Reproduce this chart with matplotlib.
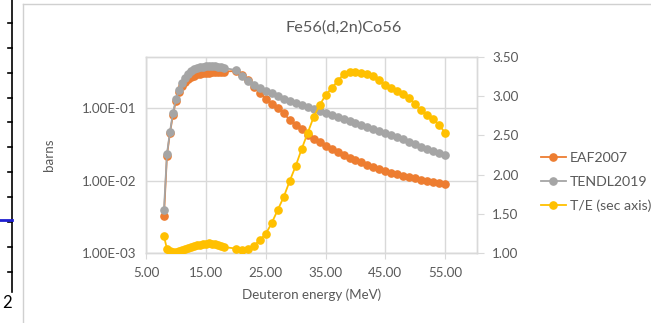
import matplotlib
matplotlib.use('Agg')
import matplotlib.pyplot as plt
from matplotlib.lines import Line2D
from matplotlib.ticker import FixedLocator, FuncFormatter, NullLocator

plt.rcParams['font.family'] = ['Lato', 'DejaVu Sans']

# deuteron energy grid (MeV)
energy = [8, 8.5, 9, 9.5, 10, 10.5, 11, 11.5, 12, 12.5, 13, 13.5, 14, 14.5,
          15, 15.5, 16, 16.5, 17, 17.5, 18,
          20, 21, 22, 23, 24, 25, 26, 27, 28, 29, 30, 31, 32, 33, 34, 35, 36,
          37, 38, 39, 40, 41, 42, 43, 44, 45, 46, 47, 48, 49, 50, 51, 52, 53,
          54, 55]

# cross sections (barns)
eaf2007 = [0.0032, 0.022, 0.045, 0.08, 0.125, 0.165, 0.20, 0.23, 0.255, 0.27,
           0.28, 0.29, 0.295, 0.30, 0.304, 0.307, 0.31, 0.312, 0.314, 0.316,
           0.318,
           0.324, 0.285, 0.243, 0.195, 0.161, 0.133, 0.1135, 0.100, 0.0853,
           0.0682, 0.0584, 0.0513, 0.0425, 0.0373, 0.0340, 0.0299, 0.0272,
           0.0247, 0.0225, 0.0207, 0.0192, 0.0180, 0.0164, 0.0153, 0.0142,
           0.0135, 0.0127, 0.0121, 0.0115, 0.0110, 0.0107, 0.0102, 0.0098,
           0.0095, 0.0092, 0.0090]

tendl2019 = [0.0039, 0.0232, 0.0467, 0.085, 0.133, 0.177, 0.221, 0.26, 0.29,
             0.32, 0.34, 0.355, 0.365, 0.372, 0.378, 0.382, 0.383, 0.378,
             0.37, 0.362, 0.356,
             0.334, 0.276, 0.236, 0.208, 0.189, 0.172, 0.1585, 0.1465, 0.135,
             0.125, 0.117, 0.110, 0.103, 0.0969, 0.0910, 0.0853, 0.0800,
             0.0752, 0.0705, 0.0662, 0.0621, 0.0583, 0.0547, 0.0513, 0.0482,
             0.0452, 0.0424, 0.0398, 0.0374, 0.0345, 0.0319, 0.0294, 0.0272,
             0.0255, 0.0239, 0.0225]

# TENDL / EAF ratio (secondary axis)
ratio = [1.217, 1.051, 1.025, 1.013, 1.013, 1.025, 1.038, 1.051, 1.064, 1.076,
         1.089, 1.102, 1.108, 1.115, 1.121, 1.124, 1.121, 1.115, 1.102, 1.089,
         1.076,
         1.057, 1.038, 1.051, 1.089, 1.166, 1.242, 1.382, 1.548, 1.713, 1.917,
         2.108, 2.325, 2.529, 2.732, 2.885, 3.013, 3.102, 3.191, 3.280, 3.306,
         3.306, 3.293, 3.287, 3.255, 3.204, 3.140, 3.102, 3.064, 3.025, 2.975,
         2.898, 2.822, 2.758, 2.707, 2.631, 2.529]

x_ticks = [5, 15, 25, 35, 45, 55]
y_ticks = [1e-3, 1e-2, 1e-1]
y2_ticks = [1.0, 1.5, 2.0, 2.5, 3.0, 3.5]

txt = '#595959'
grid = '#d9d9d9'
fs = 9.6

fig = plt.figure(figsize=(6.51, 3.23), dpi=100)
ax = fig.add_axes([146/651, 1-253/323, (477-146)/651, (253-57)/323])
ax2 = ax.twinx()

ax.plot(energy, eaf2007, '-o', color='#ED7D31', lw=1.3, ms=5.2, label='EAF2007', zorder=3)
ax.plot(energy, tendl2019, '-o', color='#A5A5A5', lw=1.3, ms=5.2, label='TENDL2019', zorder=4)
ax2.plot(energy, ratio, '-o', color='#FFC000', lw=1.3, ms=5.2, label='T/E (sec axis)', zorder=5)

ax.set_yscale('log')
ax.set_xlim(5, 60.3)
ax.set_ylim(1e-3, 10 ** (-1 + 51/72.5))
ax2.set_ylim(1.0, 3.5)

ax.xaxis.set_major_locator(FixedLocator(x_ticks))
ax.xaxis.set_major_formatter(FuncFormatter(lambda v, p: '%.2f' % v))
ax.yaxis.set_major_locator(FixedLocator(y_ticks))
ax.yaxis.set_minor_locator(NullLocator())
ax.yaxis.set_major_formatter(FuncFormatter(lambda v, p: '%.2E' % v))
ax2.yaxis.set_major_locator(FixedLocator(y2_ticks))
ax2.yaxis.set_major_formatter(FuncFormatter(lambda v, p: '%.2f' % v))

ax.grid(True, color=grid, lw=1)
ax.set_axisbelow(True)
for a in (ax, ax2):
    for s in a.spines.values():
        s.set_color(grid)
        s.set_linewidth(1)
ax.tick_params(axis='x', colors=grid, labelcolor=txt, labelsize=fs, length=4, pad=6)
ax.tick_params(axis='y', length=0, labelcolor=txt, labelsize=fs, pad=7)
ax2.tick_params(axis='y', colors=grid, labelcolor=txt, labelsize=fs, length=5, pad=6)

ax.set_xlabel('Deuteron energy (MeV)', color=txt, fontsize=fs, labelpad=7)
ax.set_ylabel('barns', color=txt, fontsize=fs, labelpad=19)
fig.text(344/651, 1-28/323, 'Fe56(d,2n)Co56', color=txt, fontsize=11.8, ha='center', va='center')

h1, l1 = ax.get_legend_handles_labels()
h2, l2 = ax2.get_legend_handles_labels()
leg = fig.legend(h1 + h2, l1 + l2, loc='center left', bbox_to_anchor=(535/651, 1-182/323),
                 frameon=False, fontsize=fs + 0.6, handlelength=1.8, handletextpad=0.25,
                 labelspacing=0.85, borderaxespad=0)
for t in leg.get_texts():
    t.set_color(txt)

# bits of the neighbouring window visible in the screenshot
fig.add_artist(Line2D([23/651, 23/651], [0, 1-4/323], color='#d0d0d0', lw=1))
fig.add_artist(Line2D([23/651, 1], [1-4/323, 1-4/323], color='#d0d0d0', lw=1))
fig.add_artist(Line2D([12/651, 12/651], [1-292/323, 1], color='black', lw=1.2))
for ty in [23, 48, 73, 98, 122, 147, 172, 197, 222, 247, 272]:
    fig.add_artist(Line2D([8/651, 12/651], [1-ty/323, 1-ty/323], color='black', lw=1.2))
fig.add_artist(Line2D([0, 12/651], [1-220/323, 1-220/323], color='#1f1fd0', lw=2))
fig.text(7/651, 1-303/323, '2', fontsize=12, ha='center', va='center', color='black')

fig.savefig('out.png', dpi=100)
